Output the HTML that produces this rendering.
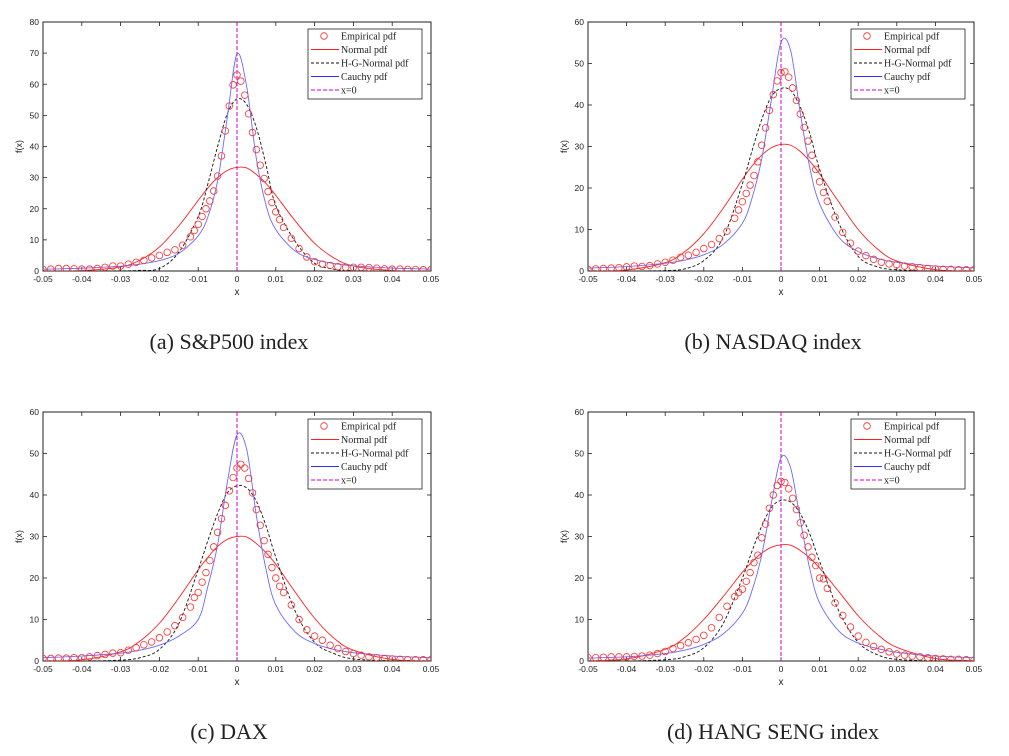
<!DOCTYPE html>
<html><head><meta charset="utf-8">
<style>
body{margin:0;background:#fff;}
svg{display:block;}
text{font-family:"Liberation Sans",sans-serif;}
.cap{font-family:"Liberation Serif",serif;font-size:22px;fill:#222;}
.leg{font-family:"Liberation Serif",serif;font-size:10px;fill:#222;}
</style></head>
<body>
<svg id="fig" width="1009" height="756" viewBox="0 0 1009 756"></svg>
<script>
const lineX=[-0.05,-0.04,-0.03,-0.025,-0.02,-0.015,-0.01,-0.0075,-0.005,-0.0025,0,0.0025,0.005,0.0075,0.01,0.015,0.02,0.025,0.03,0.04,0.05];
const empX=[-0.05,-0.048,-0.046,-0.044,-0.042,-0.04,-0.038,-0.036,-0.034,-0.032,-0.03,-0.028,-0.026,-0.024,-0.022,-0.02,-0.018,-0.016,-0.014,-0.012,-0.01,-0.008,-0.006,-0.004,-0.002,0,0.002,0.004,0.006,0.008,0.01,0.012,0.014,0.016,0.018,0.02,0.022,0.024,0.026,0.028,0.03,0.032,0.034,0.036,0.038,0.04,0.042,0.044,0.046,0.048,0.05];
const empXFine=[-0.011,-0.009,-0.007,-0.005,-0.003,-0.001,0.001,0.003,0.005,0.007,0.009,0.011];
const xTicks=[-0.05,-0.04,-0.03,-0.02,-0.01,0,0.01,0.02,0.03,0.04,0.05];
const xTickLabels=["-0.05","-0.04","-0.03","-0.02","-0.01","0","0.01","0.02","0.03","0.04","0.05"];
const yTicksA=[0,10,20,30,40,50,60,70,80];
const yTicks60=[0,10,20,30,40,50,60];
const legendLabels=["Empirical pdf","Normal pdf","H-G-Normal pdf","Cauchy pdf","x=0"];
const captions=["(a)  S&P500 index","(b)  NASDAQ index","(c)  DAX","(d)  HANG SENG index"];

const normalA=[0,0.11,1.31,3.5,7.7,14.5,22.7,26.7,30,32.3,33.3,33.1,31,28.1,24.3,16.1,8.9,4.2,1.6,0.15,0];
const hgnA=[0,0,0.05,0.2,0.8,6,17.5,28,40,50.5,55.3,53.5,46,34,21,9.5,2.5,0.6,0.1,0,0];
const cauchyA=[0.575,0.89,1.56,2.2,3.35,5.66,11.3,17.4,28.9,49.3,69.7,59.2,36,21.1,13.3,6.4,3.7,2.4,1.66,0.94,0.6];
const empA=[0.5,0.6,0.8,0.8,0.7,0.6,0.6,0.8,1.2,1.6,1.6,2.2,2.8,3.4,4.2,5.0,6.0,6.8,8.3,11,15,20,25.7,37,53,63,56.5,44.5,34,25.5,19,14,10.5,7.2,4.5,3,2.2,1.8,1.4,1.2,1.2,1.2,1.1,0.9,0.7,0.6,0.6,0.5,0.5,0.4,0.4];
const empFineA=[13,17.5,22.5,30.5,45,59.8,61,50.5,39,29.7,22,16.5];

const normalB=[0.02,0.26,2.0,4.6,9.0,15.1,22.1,25.3,27.9,29.7,30.5,30.3,28.8,26.4,23.4,16.6,10.0,5.3,2.4,0.32,0.03];
const hgnB=[0,0,0.1,0.5,2.5,8,21,29,36.5,42,44,43.5,39.5,33,24.5,11.5,3.5,1,0.3,0,0];
const cauchyB=[0.7,1.08,1.86,2.6,3.9,6.4,11.5,17.6,27,41.2,55.1,53.1,38.1,24.7,16.2,8.1,4.7,3.0,2.1,1.19,0.76];
const empB=[0.4,0.5,0.6,0.7,0.8,1.0,1.2,1.1,1.3,1.7,2.1,2.6,3.3,3.8,4.5,5.4,6.4,7.8,9.6,12.7,16.7,20.7,26.3,34.5,42.5,47.8,46.7,41.1,34.6,27.9,21.5,16.8,13,9.3,6.7,4.8,3.7,2.8,2.1,1.7,1.5,1.2,1.0,0.8,0.6,0.5,0.4,0.4,0.3,0.3,0.3];
const empFineB=[14.7,18.7,23,30.3,38.7,45.8,48,44.1,37.8,31.3,24.5,18.9];

const normalC=[0.02,0.29,2.2,4.8,9.1,15.2,22,25,27.6,29.3,30,29.9,28.3,26.1,23.3,16.6,10.3,5.5,2.6,0.37,0.03];
const hgnC=[0,0,0.2,0.8,2.8,9,22,29,35.5,40.5,42.2,41.7,38.5,32.5,25,12,4.5,1.8,0.5,0.05,0];
const cauchyC=[0.8,1.2,1.9,2.6,3.8,6,10,18,28,43,54.5,51,35,22,13.5,7,4.2,2.8,2.0,1.2,0.8];
const empC=[0.6,0.6,0.7,0.7,0.8,0.8,1.0,1.3,1.6,1.9,2.0,2.6,3.2,3.9,4.6,5.6,7.0,8.5,10.5,13,16.5,21.3,27.5,34.3,41,46.5,46.5,40.5,32.7,25.7,20,16.5,13.5,10,7.5,6,5,3.8,3,2.3,1.8,1.4,1.0,0.8,0.6,0.5,0.4,0.3,0.3,0.3,0.3];
const empFineC=[15.3,19,24.2,31,37.5,44.2,47.4,44,36.5,29,22.5,18];

const normalD=[0.05,0.49,2.8,5.6,10.0,15.5,21.4,23.9,26,27.4,28,27.9,26.6,24.8,22.4,16.7,10.9,6.4,3.3,0.6,0.06];
const hgnD=[0,0,0.3,1,3.2,9,20,26.5,32.5,37,38.7,38.3,35.5,30.5,24,12,4.5,1.5,0.4,0.05,0];
const cauchyD=[0.7,1.0,1.8,2.6,4.0,6.5,11.5,17,25.5,38,49,46.5,34,22,14,7.2,4.3,3,2.1,1.2,0.8];
const empD=[0.8,0.8,0.9,1.0,1.0,1.0,1.1,1.2,1.4,1.8,2.3,3.0,3.7,4.4,5.2,6.2,8,10.5,13.2,15.5,17.3,21.3,25.5,33,40,43.3,41.5,36.5,30.3,25,20,17.5,14,11,8.2,6,4.5,3.5,2.8,2.2,1.7,1.4,1.2,1.0,0.8,0.6,0.5,0.4,0.4,0.3,0.2];
const empFineD=[16.5,19.2,23.7,29.7,36.8,42.3,43,39.2,33.3,27.5,23,19.8];

const NS='http://www.w3.org/2000/svg';
const svg=document.getElementById('fig');
function mk(tag,attrs,parent){const e=document.createElementNS(NS,tag);for(const k in attrs)e.setAttribute(k,attrs[k]);(parent||svg).appendChild(e);return e;}
function smoothPath(pts){let d='M'+pts[0][0].toFixed(2)+','+pts[0][1].toFixed(2);
 for(let i=0;i<pts.length-1;i++){const p0=pts[Math.max(0,i-1)],p1=pts[i],p2=pts[i+1],p3=pts[Math.min(pts.length-1,i+2)];
  const c1=[p1[0]+(p2[0]-p0[0])/6,p1[1]+(p2[1]-p0[1])/6],c2=[p2[0]-(p3[0]-p1[0])/6,p2[1]-(p3[1]-p1[1])/6];
  d+=' C'+c1[0].toFixed(2)+','+c1[1].toFixed(2)+' '+c2[0].toFixed(2)+','+c2[1].toFixed(2)+' '+p2[0].toFixed(2)+','+p2[1].toFixed(2);}
 return d;}

const panels=[
 {id:'a',L:43,R:431,T:22,B:271,ymax:80,yt:yTicksA,n:normalA,h:hgnA,c:cauchyA,e:empA,ef:empFineA,cap:captions[0],cy:349},
 {id:'b',L:588,R:974,T:22,B:271,ymax:60,yt:yTicks60,n:normalB,h:hgnB,c:cauchyB,e:empB,ef:empFineB,cap:captions[1],cy:349},
 {id:'c',L:43,R:431,T:412,B:661,ymax:60,yt:yTicks60,n:normalC,h:hgnC,c:cauchyC,e:empC,ef:empFineC,cap:captions[2],cy:739},
 {id:'d',L:588,R:974,T:412,B:661,ymax:60,yt:yTicks60,n:normalD,h:hgnD,c:cauchyD,e:empD,ef:empFineD,cap:captions[3],cy:739}
];
panels.forEach(p=>{
 const g=mk('g',{});
 
 
 const sx=v=>p.L+(v+0.05)/0.1*(p.R-p.L);
 const sy=v=>p.B-v/p.ymax*(p.B-p.T);
 const clip=mk('clipPath',{id:'clip'+p.id},g);mk('rect',{x:p.L,y:p.T,width:p.R-p.L,height:p.B-p.T},clip);
 const frame=mk('rect',{x:p.L,y:p.T,width:p.R-p.L,height:p.B-p.T,fill:'#fff',stroke:'#222','stroke-width':1},g);
 
 
 xTicks.forEach((t,i)=>{const x=sx(t);
  mk('line',{x1:x,x2:x,y1:p.B,y2:p.B-4,stroke:'#222','stroke-width':0.8},g);
  mk('line',{x1:x,x2:x,y1:p.T,y2:p.T+4,stroke:'#222','stroke-width':0.8},g);
  const tx=mk('text',{x:x,y:p.B+11,'font-size':8.5,'text-anchor':'middle',fill:'#222'},g);tx.textContent=xTickLabels[i];
  
  });
 p.yt.forEach(t=>{const y=sy(t);
  mk('line',{x1:p.L,x2:p.L+4,y1:y,y2:y,stroke:'#222','stroke-width':0.8},g);
  mk('line',{x1:p.R,x2:p.R-4,y1:y,y2:y,stroke:'#222','stroke-width':0.8},g);
  const tx=mk('text',{x:p.L-4,y:y+3,'font-size':8.5,'text-anchor':'end',fill:'#222'},g);tx.textContent=String(t);
  
  });
 const xl=mk('text',{x:(p.L+p.R)/2,y:p.B+24,'font-size':10,'text-anchor':'middle',fill:'#222'},g);xl.textContent='x';
 
 
 const yl=mk('text',{x:0,y:0,'font-size':9,'text-anchor':'middle',fill:'#222',transform:`translate(${p.L-21},${(p.T+p.B)/2}) rotate(-90)`},g);yl.textContent='f(x)';
 
 
 const pg=mk('g',{'clip-path':`url(#clip${p.id})`},g);
 const series=[[p.n,'#ff2020','none','normal-pdf-line'],[p.h,'#111','3,2','hgn-pdf-line'],[p.c,'#6a6aff','none','cauchy-pdf-line']];
 series.forEach(s=>{const pts=lineX.map((x,i)=>[sx(x),sy(s[0][i])]);
  const path=mk('path',{d:smoothPath(pts),fill:'none',stroke:s[1],'stroke-width':0.9,'stroke-dasharray':s[2]},pg);
  
  });
 const zl=mk('line',{x1:sx(0),x2:sx(0),y1:p.T,y2:p.B,stroke:'#d000d0','stroke-width':1,'stroke-dasharray':'4,2'},pg);
 
 
 empX.forEach((x,i)=>{const c=mk('circle',{cx:sx(x),cy:sy(p.e[i]),r:3.3,fill:'none',stroke:'#ff3030','stroke-width':0.8},pg);
  
  });
 empXFine.forEach((x,i)=>{const c=mk('circle',{cx:sx(x),cy:sy(p.ef[i]),r:3.3,fill:'none',stroke:'#ff3030','stroke-width':0.8},pg);
  
  });
 const lx=p.R-123,ly=p.T+7;
 const lg=mk('g',{},g);
 
 
 mk('rect',{x:lx,y:ly,width:114,height:70,fill:'#fff',stroke:'#222','stroke-width':0.8},lg);
 const cols=['#ff3030','#ff2020','#111','#3030ff','#d000d0'];
 const dashes=['none','none','3,2','none','4,2'];
 legendLabels.forEach((lab,i)=>{const y=ly+7+i*13.5;
  if(i===0){mk('circle',{cx:lx+16,cy:y,r:3.3,fill:'none',stroke:cols[0],'stroke-width':0.8},lg);}
  else mk('line',{x1:lx+3,x2:lx+31,y1:y,y2:y,stroke:cols[i],'stroke-width':1,'stroke-dasharray':dashes[i]},lg);
  const t=mk('text',{x:lx+33,y:y+3.5,class:'leg'},lg);t.textContent=lab;
  
  });
 const cp=mk('text',{x:(p.L+p.R)/2-8,y:p.cy,class:'cap','text-anchor':'middle'},g);cp.textContent=p.cap;
 
 
});
</script>
</body></html>
